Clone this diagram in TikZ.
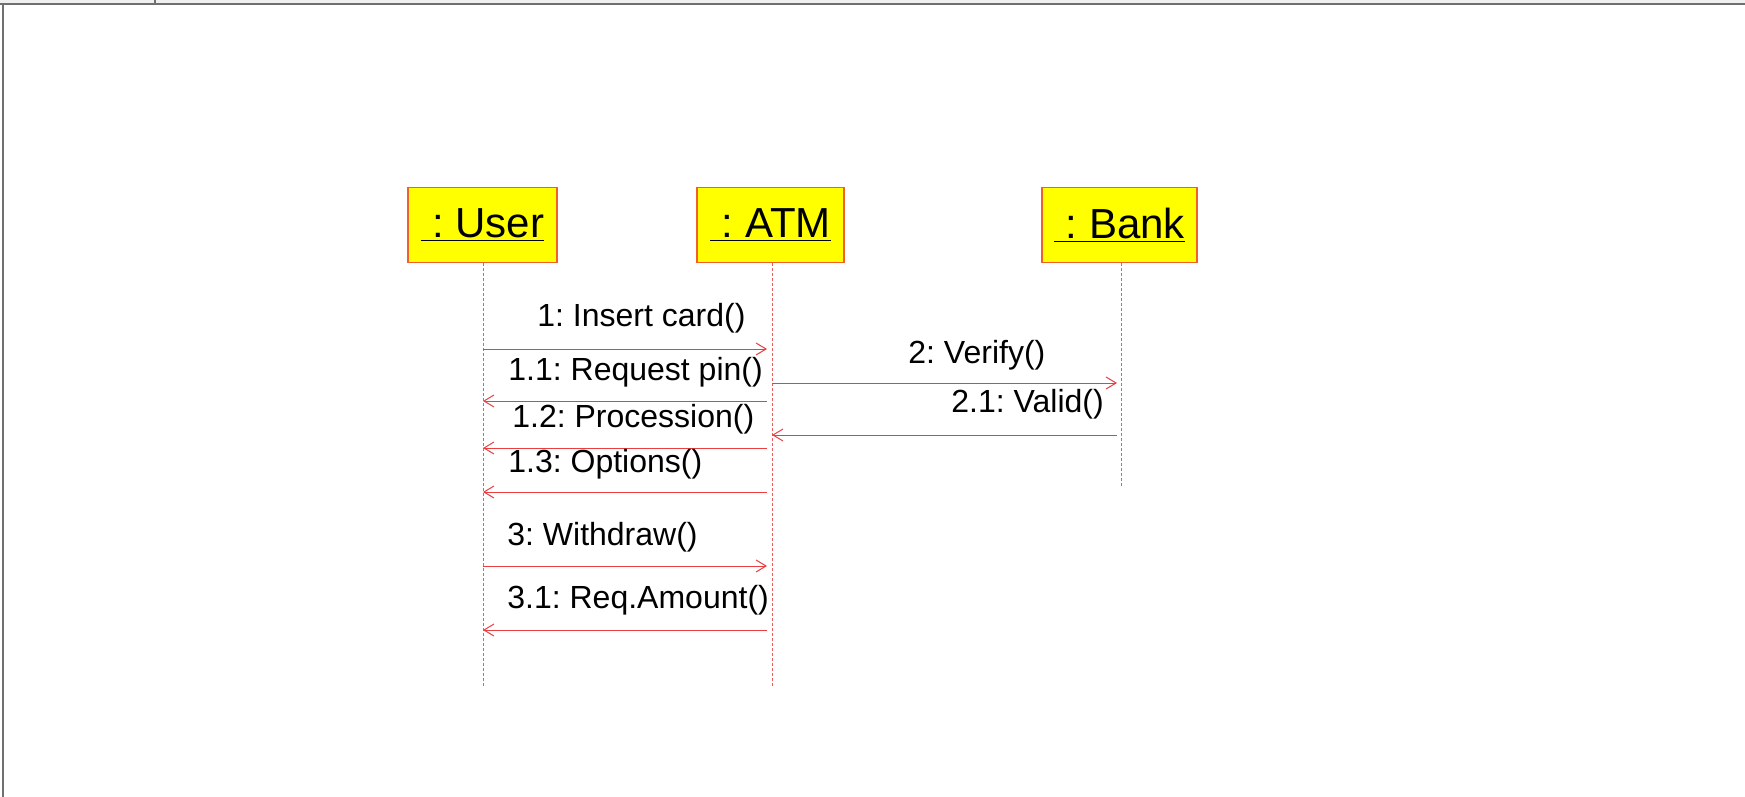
\documentclass[tikz,border=0pt]{standalone}
\usepackage{fontspec}
\setmainfont{Liberation Sans}
\usepackage[dvipsnames]{xcolor}
\usetikzlibrary{arrows.meta}
\usetikzlibrary{positioning}
\frenchspacing

\definecolor{objfill}{RGB}{255,255,0}
\definecolor{objline}{RGB}{240,96,40}
\definecolor{msgred}{RGB}{232,64,64}
\definecolor{framegray}{RGB}{112,112,112}

\tikzset{
  obj/.style={draw=objline, fill=objfill, line width=0.6pt, minimum height=37.5pt, inner sep=0pt,
              font=\fontsize{21}{24}\selectfont},
  life/.style={draw=msgred!85, line width=0.5pt, dash pattern=on 1.5pt off 1pt},
  msg/.style={draw=msgred, line width=0.5pt},
  lbl/.style={anchor=base west, inner sep=0pt, font=\fontsize{16}{19}\selectfont}
}

\begin{document}
\begin{tikzpicture}[x=0.5pt, y=-0.5pt]
\def\l{5pt}
\def\w{6pt}
\useasboundingbox (0,0) rectangle (1745,797);
% window frame
\fill[black!6] (0,0) rectangle (1745,3);
\draw[framegray, line width=1pt] (0,4.5) -- (1745,4.5);
\draw[framegray, line width=1pt] (3,4.5) -- (3,797);
\draw[framegray, line width=0.6pt] (155,0) -- (155,3);

% objects
\node [obj, minimum width=74.5pt, name=user] at (482.5,225) {\underline{\ : User}};
\node [obj, minimum width=73.5pt, name=atm]  at (770.5,225) {\underline{\ : ATM}};
\node [obj, minimum width=77.5pt, name=bank] at (1119.5,225) {\underline{\ : Bank}};

% lifelines
\coordinate (userEnd) at (483,686);
\coordinate (atmEnd)  at (772,686);
\coordinate (bankEnd) at (1121,487);
\draw [life] (user.south -| userEnd) -- (userEnd);
\draw [life] (atm.south -| atmEnd) -- (atmEnd);
\draw [life] (bank.south -| bankEnd) -- (bankEnd);

% messages
\draw [msg, shorten >=2.5pt, -{Straight Barb[length=\l, width=\w]}](userEnd |- 0,349) -- (atmEnd |- 0,349);
\draw [msg, shorten <=2.5pt, -{Straight Barb[length=\l, width=\w]}](atmEnd |- 0,401) -- (userEnd |- 0,401);
\draw [msg, shorten <=2.5pt, -{Straight Barb[length=\l, width=\w]}](atmEnd |- 0,448) -- (userEnd |- 0,448);
\draw [msg, shorten <=2.5pt, -{Straight Barb[length=\l, width=\w]}](atmEnd |- 0,492) -- (userEnd |- 0,492);
\draw [msg, shorten >=2pt, -{Straight Barb[length=\l, width=\w]}](atmEnd |- 0,383) -- (bankEnd |- 0,383);
\draw [msg, shorten <=2pt, -{Straight Barb[length=\l, width=\w]}](bankEnd |- 0,435) -- (atmEnd |- 0,435);
\draw [msg, shorten >=2.5pt, -{Straight Barb[length=\l, width=\w]}](userEnd |- 0,566) -- (atmEnd |- 0,566);
\draw [msg, shorten <=2.5pt, -{Straight Barb[length=\l, width=\w]}](atmEnd |- 0,630) -- (userEnd |- 0,630);

% labels
\node [lbl, name=m1]  at (537,326) {1: Insert card()};
\node [lbl, name=m11] at (508,380) {1.1: Request pin()};
\node [lbl, name=m12] at (512,427) {1.2: Procession()};
\node [lbl, name=m13] at (508,472) {1.3: Options()};
\node [lbl, name=m2]  at (908,363) {2: Verify()};
\node [lbl, name=m21] at (951,412) {2.1: Valid()};
\node [lbl, name=m3]  at (507,545) {3: Withdraw()};
\node [lbl, name=m31] at (507,608) {3.1: Req.Amount()};
\end{tikzpicture}
\end{document}
